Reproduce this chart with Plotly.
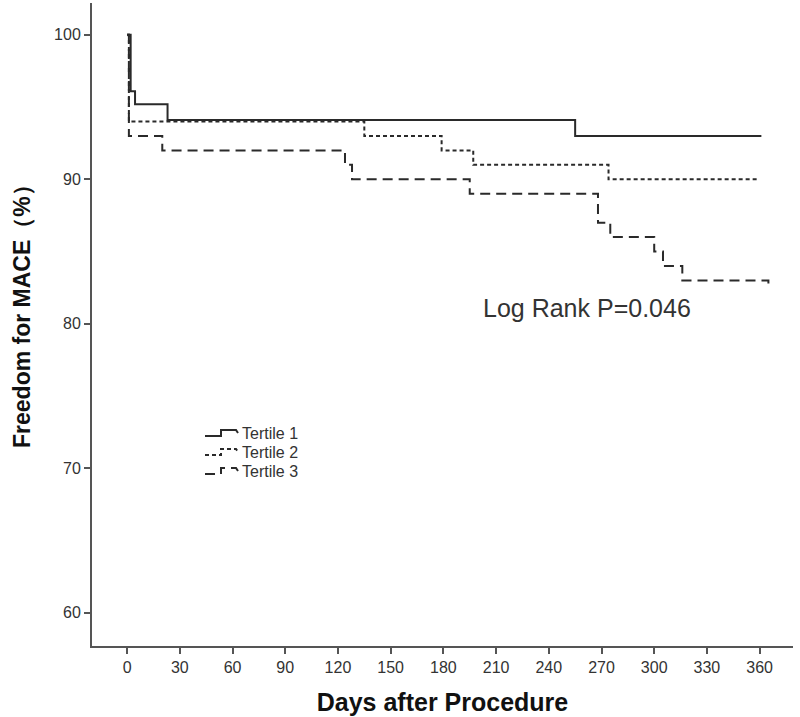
import plotly.graph_objects as go

# Kaplan-Meier step data (days, freedom from MACE %)
t1_days = [0, 2, 4.5, 23, 255, 361]
t1_vals = [100, 96.1, 95.2, 94.1, 93.0, 93.0]

t2_days = [0, 1, 135, 179, 197, 274, 359]
t2_vals = [100, 94.0, 93.0, 92.0, 91.0, 90.0, 90.0]

t3_days = [0, 1, 20, 124, 128, 195, 268, 275, 300, 305, 316, 365]
t3_vals = [100, 93.0, 92.0, 91.0, 90.0, 89.0, 87.0, 86.0, 85.0, 84.0, 83.0, 82.4]

series_names = ["Tertile 1", "Tertile 2", "Tertile 3"]
x_ticks = list(range(0, 361, 30))
y_ticks = [60, 70, 80, 90, 100]
p_text = "Log Rank P=0.046"
x_title = "<b>Days after Procedure</b>"
y_title = "<b>Freedom for MACE（%）</b>"

LINE_COLOR = "#2a2a2a"
styles = [dict(dash="solid"), dict(dash="4px,3px"), dict(dash="10px,6px")]
all_days = [t1_days, t2_days, t3_days]
all_vals = [t1_vals, t2_vals, t3_vals]

# plot area geometry (pixels) used to place the manual legend / titles
L, R, T, B, W, H = 92, 7, 3, 71, 800, 717
PW, PH = W - L - R, H - T - B


def px(xp):
    return (xp - L) / PW


def py(yp):
    return (H - B - yp) / PH


fig = go.Figure()
for name, d, v, st in zip(series_names, all_days, all_vals, styles):
    fig.add_trace(go.Scatter(x=d, y=v, mode="lines", line_shape="hv", name=name,
                             showlegend=False, hoverinfo="skip",
                             line=dict(color=LINE_COLOR, width=2, dash=st["dash"])))

# manual legend (step-shaped samples like the original)
legend_rows = [433, 452, 471]
for name, st, yc in zip(series_names, styles, legend_rows):
    x0, x1, x2, x3 = 205, 221, 236, 238
    ylo, yhi = yc + 3, yc - 3
    path = (f"M {px(x0)} {py(ylo)} L {px(x1)} {py(ylo)} L {px(x1)} {py(yhi)} "
            f"L {px(x2)} {py(yhi)} L {px(x3)} {py(yc)}")
    fig.add_shape(type="path", path=path, xref="paper", yref="paper",
                  line=dict(color=LINE_COLOR, width=2, dash=st["dash"]))
    fig.add_annotation(x=px(240), y=py(yc), xref="paper", yref="paper", text=name,
                       showarrow=False, xanchor="left", yanchor="middle",
                       font=dict(family="Liberation Sans", size=16, color="#333333"))

fig.add_annotation(x=262, y=81.1, xref="x", yref="y", text=p_text, showarrow=False,
                   font=dict(family="Liberation Sans", size=25, color="#333333"))

# y-axis title placed as rotated annotation (sits slightly above plot centre)
fig.add_annotation(x=px(22), y=py(311), xref="paper", yref="paper", text=y_title,
                   showarrow=False, textangle=-90, xanchor="center", yanchor="middle",
                   font=dict(family="Liberation Sans", size=23, color="#111111"))

fig.update_layout(
    width=W, height=H,
    margin=dict(l=L, r=R, t=T, b=B),
    paper_bgcolor="white", plot_bgcolor="white",
    font=dict(family="Liberation Sans", color="#333333"),
    showlegend=False,
    xaxis=dict(range=[-20, 379], tickmode="array", tickvals=x_ticks,
               showgrid=False, zeroline=False, showline=True, linecolor="#555555",
               linewidth=2, ticks="outside", ticklen=6, tickwidth=2, tickcolor="#555555",
               tickfont=dict(family="Liberation Sans", size=16, color="#333333"),
               title=dict(text=x_title,
                          font=dict(family="Liberation Sans", size=25, color="#111111"),
                          standoff=18)),
    yaxis=dict(range=[57.7, 102.2], tickmode="array", tickvals=y_ticks,
               showgrid=False, zeroline=False, showline=True, linecolor="#555555",
               linewidth=2, ticks="outside", ticklen=6, tickwidth=2, tickcolor="#555555",
               tickfont=dict(family="Liberation Sans", size=16, color="#333333")),
)

fig.write_html("out.html", config={"displayModeBar": False},
               post_script="document.body.style.margin='0px';")
